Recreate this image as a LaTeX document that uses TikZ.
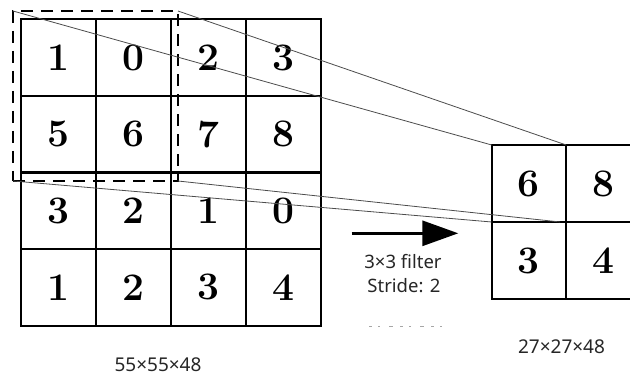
\documentclass[tikz,border=0pt]{standalone}
\usepackage{fontspec}
\newfontfamily\labelfont{Noto Sans}
\usetikzlibrary{arrows.meta}
\begin{document}
\begin{tikzpicture}[x=1pt,y=-1pt,
  cell/.style={draw, line width=2.2pt, minimum width=75.1pt, minimum height=76.6pt,
    inner sep=0pt, outer sep=0pt, font=\fontsize{39}{40}\selectfont\bfseries},
  outcell/.style={cell, minimum width=74.5pt, minimum height=77pt},
  window/.style={draw, dashed, line width=1.5pt, dash pattern=on 12pt off 8pt,
    minimum width=165pt, minimum height=170pt, inner sep=0pt, outer sep=0pt},
  link/.style={draw=black!70, line width=0.8pt},
  caption/.style={text=black!85, inner sep=0pt, font=\labelfont\fontsize{19}{22}\selectfont},
  note/.style={text=black!85, inner sep=0pt, font=\labelfont\fontsize{18.5}{22}\selectfont}]
\useasboundingbox (0,0) rectangle (630,377);
\clip (0,0) rectangle (630,377);

% 4x4 input map
\foreach \r/\row in {1/{1,0,2,3}, 2/{5,6,7,8}, 3/{3,2,1,0}, 4/{1,2,3,4}} {
  \foreach \v [count=\c] in \row {
    \node[cell] (L-\r-\c) at ({20.7+75.1*(\c-0.5)}, {19.3+76.6*(\r-0.5)}) {\v};
  }
}

% 2x2 pooled map
\foreach \r/\row in {1/{6,8}, 2/{3,4}} {
  \foreach \v [count=\c] in \row {
    \node[outcell] (R-\r-\c) at ({491.7+74.5*(\c-0.5)}, {145+77*(\r-0.5)}) {\v};
  }
}

% 3x3 window
\node[window] (win) at (95.5,96) {};

% projection of the window onto the first output cell
\draw[link] (win.north west) -- (R-1-1.north west);
\draw[link] (win.north east) -- (R-1-1.north east);
\draw[link] (win.south west) -- (R-1-1.south west);
\draw[link] (win.south east) -- ([xshift=-6pt]R-1-1.south east);

% filter arrow
\coordinate (arrowtail) at (351.7,233.3);
\coordinate (arrowtip) at (458.3,233.3);
\draw[line width=3pt, -{Triangle[length=36pt,width=25pt]}] (arrowtail) -- (arrowtip);

\node[note] (filter) at (403,261.5) {3×3 filter};
\node[note] (stride) at (404,286) {Stride: 2};

% faint clipped marks below the note
\coordinate (marksA) at (369,326);
\coordinate (marksB) at (450,326);
\draw[black!35, line width=0.9pt, dash pattern=on 3pt off 6pt on 2pt off 9pt on 4pt off 7pt] (marksA) -- (marksB);

% map sizes
\node[caption] (insize) at (158,365) {55×55×48};
\node[caption] (outsize) at (561.5,346.5) {27×27×48};
\end{tikzpicture}
\end{document}
